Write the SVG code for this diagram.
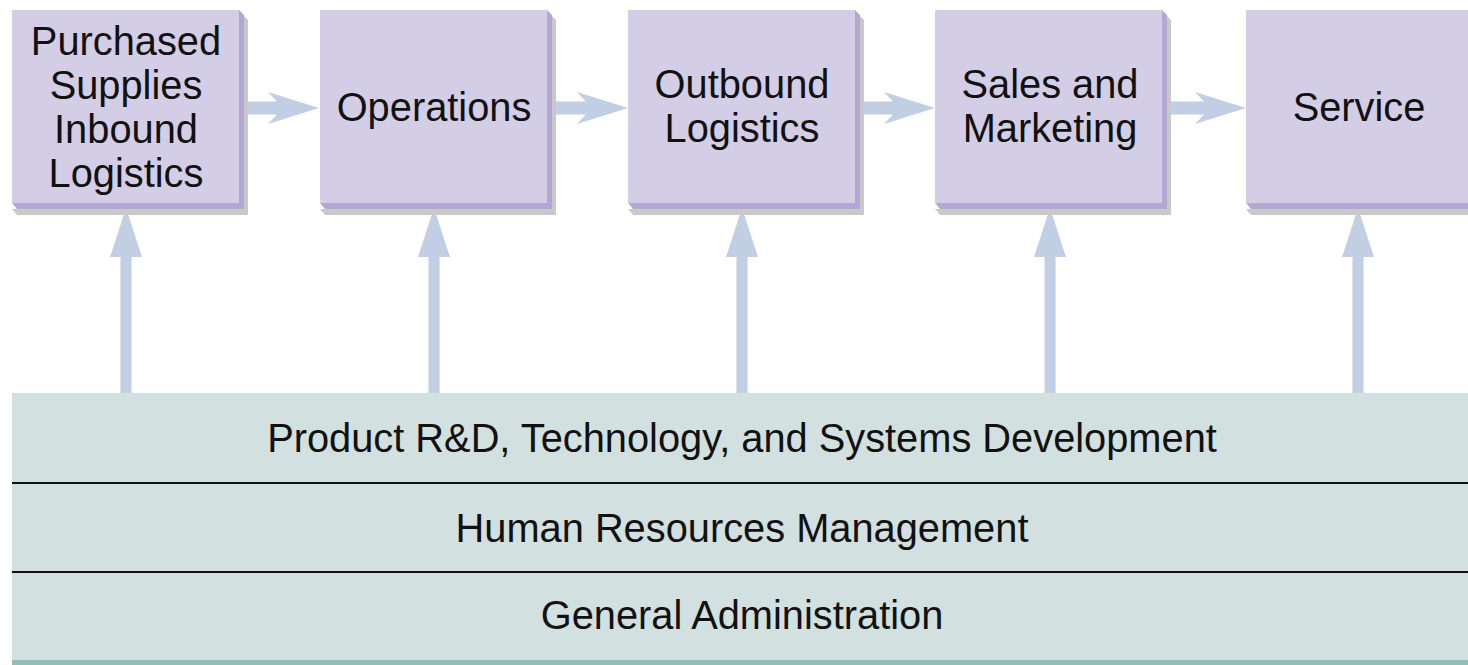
<svg xmlns="http://www.w3.org/2000/svg" width="1468" height="665" viewBox="0 0 1468 665">
<style>
.face{fill:#d3cde6}
.bevel{fill:#b1a8d4}
.shadow{fill:#c9c9c9}
.t{font-family:"Liberation Sans",Arial,sans-serif;font-size:39.8px;fill:#111;text-anchor:middle}
.arrow{fill:#c1cee3}
.sep{stroke:#111;stroke-width:2}
</style>
<defs>
<g id="box">
<polygon class="shadow" points="232,6 236,10 236,205 5,205 0,199 232,199"/>
<polygon class="bevel" points="227,0 232,5 232,199 5,199 0,193 227,193"/>
<rect class="face" x="0" y="0" width="227" height="193"/>
</g>
<polygon id="harrow" points="0,-6.5 33,-6.5 24,-16 75,0 24,16 33,6.5 0,6.5"/>
<polygon id="varrow" points="-5.5,185 -5.5,49 -16,49 0,0 16,49 5.5,49 5.5,185"/>
</defs>
<rect width="1468" height="665" fill="#ffffff"/>
<g id="panel">
<rect x="12" y="393" width="1456" height="267" fill="#d3e0e0"/>
<rect x="12" y="660" width="1456" height="5" fill="#8fc0b8"/>
<line class="sep" x1="12" y1="483" x2="1468" y2="483"/>
<line class="sep" x1="12" y1="572" x2="1468" y2="572"/>
<text class="t" x="742" y="452">Product R&amp;D, Technology, and Systems Development</text>
<text class="t" x="742" y="542">Human Resources Management</text>
<text class="t" x="742" y="629">General Administration</text>
</g>
<g id="connectors">
<use href="#harrow" class="arrow" x="244" y="108"/>
<use href="#harrow" class="arrow" x="553" y="108"/>
<use href="#harrow" class="arrow" x="860" y="108"/>
<use href="#harrow" class="arrow" x="1171" y="108"/>
<use href="#varrow" class="arrow" x="126" y="208"/>
<use href="#varrow" class="arrow" x="434" y="208"/>
<use href="#varrow" class="arrow" x="742" y="208"/>
<use href="#varrow" class="arrow" x="1050" y="208"/>
<use href="#varrow" class="arrow" x="1358" y="208"/>
</g>
<g id="node-inbound">
<use href="#box" x="12" y="10"/>
<text class="t" x="126" y="55">Purchased</text>
<text class="t" x="126" y="99">Supplies</text>
<text class="t" x="126" y="143">Inbound</text>
<text class="t" x="126" y="187">Logistics</text>
</g>
<g id="node-operations">
<use href="#box" x="320" y="10"/>
<text class="t" x="434" y="121">Operations</text>
</g>
<g id="node-outbound">
<use href="#box" x="628" y="10"/>
<text class="t" x="742" y="98">Outbound</text>
<text class="t" x="742" y="142">Logistics</text>
</g>
<g id="node-sales">
<use href="#box" x="935" y="10"/>
<text class="t" x="1050" y="98">Sales and</text>
<text class="t" x="1050" y="142">Marketing</text>
</g>
<g id="node-service">
<use href="#box" x="1246" y="10"/>
<text class="t" x="1359" y="121">Service</text>
</g>
</svg>
